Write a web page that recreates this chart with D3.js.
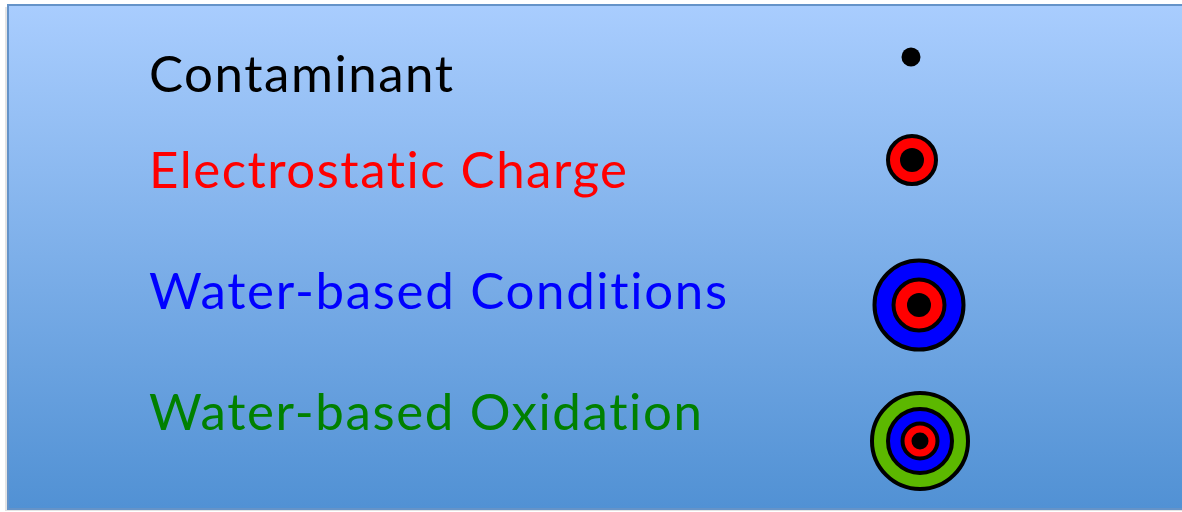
<!DOCTYPE html>
<html>
<head>
<meta charset="utf-8">
<script src="https://cdn.jsdelivr.net/npm/d3@7"></script>
<style>
  body { margin: 0; background: #fff; }
  svg { display: block; }
</style>
</head>
<body>
<div id="chart"></div>
<script>
// legend entries, top to bottom
var labels = ["Contaminant", "Electrostatic Charge", "Water-based Conditions", "Water-based Oxidation"];
var labelColors = ["#000000", "#ff0000", "#0000ff", "#008000"];
// rings of each marker, outermost first
var ringColors = [
  ["#000000"],
  ["#ff0000", "#000000"],
  ["#0000ff", "#ff0000", "#000000"],
  ["#5cb800", "#0000ff", "#ff0000", "#000000"]
];
var ringSizes = [
  [9.5],
  [26, 12],
  [46.5, 27.5, 12],
  [50, 34, 19.5, 8.5]
];

var width = 1182, height = 512;
var textY = [92, 188, 309, 430],
    textW = [304, 478, 578, 553],
    markY = [57, 160, 305, 441],
    markX = [911, 912, 919, 920];

var svg = d3.select("#chart").append("svg")
    .attr("width", width)
    .attr("height", height);

var defs = svg.append("defs");
var grad = defs.append("linearGradient")
    .attr("id", "bg")
    .attr("x1", 0).attr("y1", 0).attr("x2", 0).attr("y2", 1);
grad.append("stop").attr("offset", "0%").attr("stop-color", "#a9cdfe");
grad.append("stop").attr("offset", "100%").attr("stop-color", "#5191d4");

// faint shadow left of box and grey line under it
svg.append("rect")
    .attr("x", 5).attr("y", 7).attr("width", width).attr("height", 504)
    .attr("fill", "#e4e4e4");

svg.append("rect")
    .attr("x", 8).attr("y", 5)
    .attr("width", width + 10).attr("height", 504)
    .attr("fill", "url(#bg)")
    .attr("stroke", "#6593c8")
    .attr("stroke-width", 2);

var r = d3.scaleLinear().domain([0, 50]).range([0, 50]);

var rows = svg.append("g").selectAll(".row")
    .data(labels)
  .enter().append("g")
    .attr("class", "row");

rows.append("text")
    .attr("x", 149)
    .attr("y", function(d, i) { return textY[i]; })
    .attr("textLength", function(d, i) { return textW[i]; })
    .attr("lengthAdjust", "spacing")
    .style("font-family", "Lato, 'Noto Sans', sans-serif")
    .style("font-size", "51px")
    .style("font-variant-ligatures", "none")
    .style("fill", function(d, i) { return labelColors[i]; })
    .text(function(d) { return d; });

rows.each(function(d, i) {
  var g = d3.select(this).append("g")
      .attr("transform", "translate(" + markX[i] + "," + markY[i] + ")");
  var rings = ringSizes[i].map(function(s, j) { return {size: s, color: ringColors[i][j]}; });
  g.selectAll("circle")
      .data(rings)
    .enter().append("circle")
      .attr("r", function(c, j) { return j === rings.length - 1 ? r(c.size) : r(c.size) - 2; })
      .attr("fill", function(c) { return c.color; })
      .attr("stroke", function(c, j) { return j === rings.length - 1 ? "none" : "#000"; })
      .attr("stroke-width", 4);
});
</script>
</body>
</html>
